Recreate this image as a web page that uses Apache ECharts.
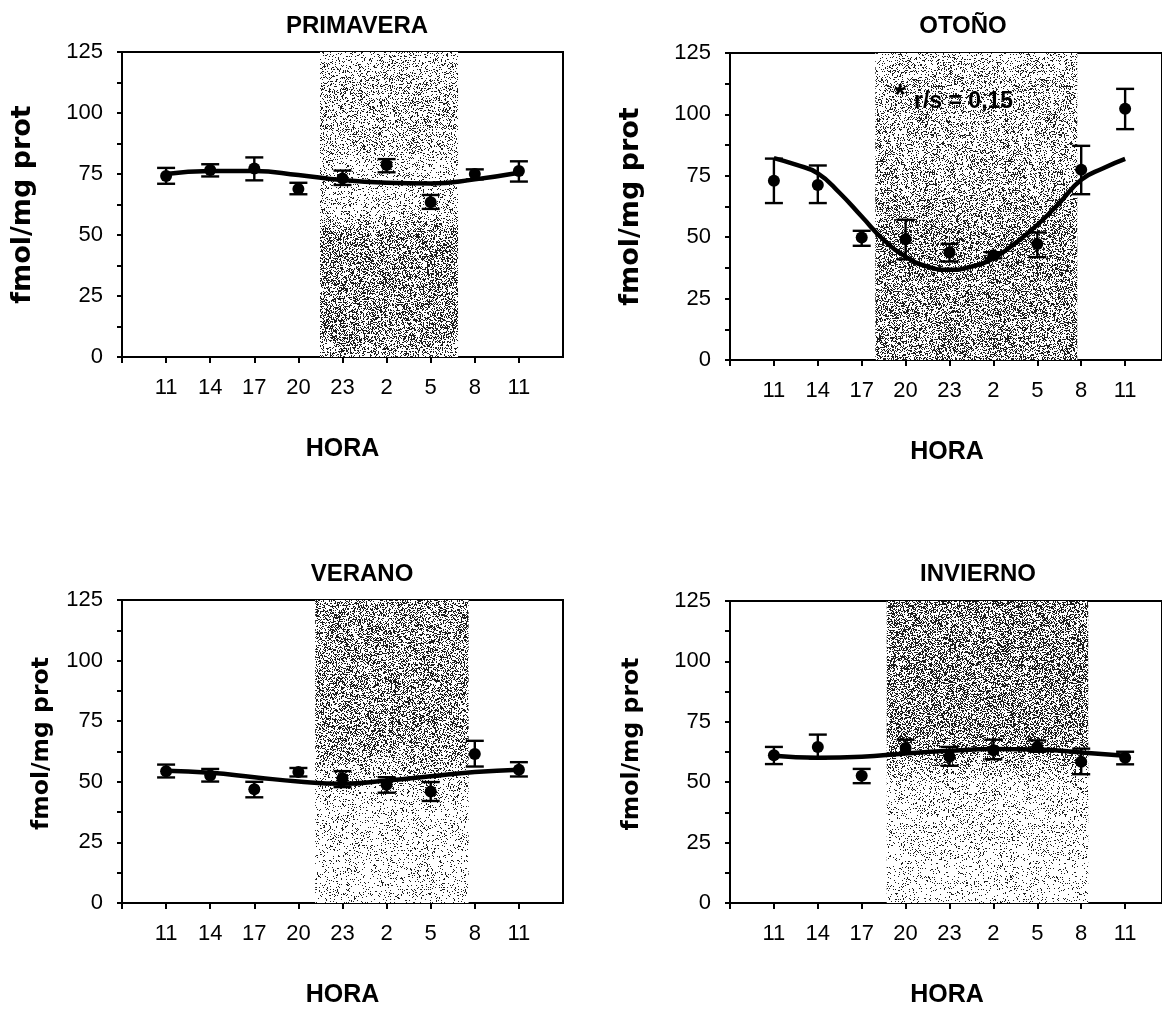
<!DOCTYPE html>
<html>
<head>
<meta charset="utf-8">
<script src="https://cdn.jsdelivr.net/npm/echarts@6/dist/echarts.min.js"></script>
<style>html,body{margin:0;padding:0;background:#fff}#c{width:1162px;height:1009px}</style>
</head>
<body>
<div id="c"></div>
<script>
// ---------- data ----------
const hourLabels = ['11','14','17','20','23','2','5','8','11'];
const seasons = ['PRIMAVERA','OTOÑO','VERANO','INVIERNO'];

const primMean  = [74.2, 76.6, 77.3, 68.9, 73.2, 78.7, 63.4, 75.0, 76.2];
const primUpper = [77.5, 79.0, 81.8, 71.4, 76.4, 81.1, 66.4, 76.9, 80.2];
const primLower = [71.0, 74.0, 72.4, 66.7, 70.5, 75.7, 60.7, 72.8, 71.9];
const primCurve = [75.0, 76.2, 76.2, 74.6, 72.5, 71.4, 71.1, 72.8, 75.5];

const otoMean  = [73.0, 71.3, 49.9, 49.2, 43.8, 42.6, 47.2, 77.5, 102.3];
const otoUpper = [82.0, 79.2, 52.6, 57.1, 47.3, 43.9, 51.9, 87.2, 110.4];
const otoLower = [63.9, 63.9, 46.5, 41.0, 40.1, 41.4, 41.9, 67.5, 94.0];
// fitted curve read every half step (1.5 h)
const otoCurve = [82.2, 79.5, 76.0, 68.0, 58.4, 48.9, 42.1, 38.0, 36.7, 38.0, 41.4, 47.6, 55.0, 63.9, 73.4, 78.1, 81.9];

const verMean  = [54.4, 52.6, 46.9, 54.0, 51.5, 48.8, 46.0, 61.5, 55.0];
const verUpper = [57.1, 55.3, 50.0, 55.7, 54.4, 51.9, 49.9, 66.9, 58.1];
const verLower = [51.8, 50.1, 43.6, 52.2, 47.8, 45.5, 42.1, 56.3, 52.2];
const verCurve = [54.6, 53.7, 51.9, 50.1, 49.2, 50.5, 52.3, 54.0, 55.0];

const invMean  = [61.2, 64.6, 52.7, 64.2, 60.5, 63.2, 64.6, 58.5, 60.1];
const invUpper = [64.6, 69.7, 55.5, 67.6, 64.6, 67.6, 67.3, 63.9, 62.6];
const invLower = [57.5, 59.8, 49.6, 61.9, 56.8, 59.5, 62.6, 53.3, 57.4];
const invCurve = [60.9, 60.1, 60.5, 61.9, 63.0, 63.7, 63.5, 62.3, 60.9];

// dark (night) period, in axis units (1 = first sample at 11 h, 3 h per unit)
const nightStart = [4.49, 3.31, 4.38, 3.57];
const nightEnd   = [7.62, 7.91, 7.86, 8.16];

const yTicks = [0, 25, 50, 75, 100, 125];
// visible x extent of each panel (right panels are cut by the page edge)
const xMax = [10, 9.84, 10, 9.84];

// ---------- layout / style ----------
const FONT = 'Liberation Sans, Arial, sans-serif';
const W = 1162, H = 1009;
const grids = [
  {left:122, top:52,  width:441, height:305},
  {left:730, top:53,  width:434, height:307},
  {left:122, top:600, width:441, height:305},
  {left:730, top:601, width:434, height:305}
];
const yNameGap = [86, 86, 68, 86];
const yNameSize = [27, 27, 23.5, 23.5];
// lightness profile of the stippled night band (0 = top of plot, 1 = bottom)
const shadeStops = [
  [[0,0.84],[0.12,0.76],[0.3,0.77],[0.38,0.86],[0.52,0.84],[0.6,0.60],[0.92,0.57],[1,0.72]],
  [[0,0.86],[0.08,0.76],[0.45,0.72],[0.6,0.60],[1,0.60]],
  [[0,0.61],[0.45,0.59],[0.55,0.75],[0.65,0.87],[1,0.89]],
  [[0,0.54],[0.42,0.55],[0.52,0.71],[0.6,0.86],[1,0.89]]
];

// deterministic stipple texture (decoration only)
function makeTexture(stops, top, height, seed) {
  const cw = 128, cv = document.createElement('canvas');
  cv.width = cw; cv.height = H;
  const ctx = cv.getContext('2d');
  const img = ctx.createImageData(cw, H);
  let s = seed >>> 0;
  const rnd = () => { s = (s + 0x6D2B79F5) >>> 0; let t = s; t = Math.imul(t ^ (t >>> 15), t | 1); t ^= t + Math.imul(t ^ (t >>> 7), t | 61); return ((t ^ (t >>> 14)) >>> 0) / 4294967296; };
  for (let y = 0; y < H; y++) {
    let t = (y - top) / height; t = Math.max(0, Math.min(1, t));
    let L = stops[stops.length - 1][1];
    for (let k = 0; k < stops.length - 1; k++) {
      if (t >= stops[k][0] && t <= stops[k + 1][0]) {
        const f = (t - stops[k][0]) / ((stops[k + 1][0] - stops[k][0]) || 1);
        L = stops[k][1] + f * (stops[k + 1][1] - stops[k][1]); break;
      }
    }
    for (let x = 0; x < cw; x++) {
      const g = rnd() < L ? 255 : 30;
      const o = (y * cw + x) * 4;
      img.data[o] = g; img.data[o + 1] = g; img.data[o + 2] = g; img.data[o + 3] = 255;
    }
  }
  ctx.putImageData(img, 0, 0);
  return cv;
}

const means  = [primMean, otoMean, verMean, invMean];
const uppers = [primUpper, otoUpper, verUpper, invUpper];
const lowers = [primLower, otoLower, verLower, invLower];
const curves = [primCurve, otoCurve, verCurve, invCurve];

const xAxes = [], yAxes = [], series = [];
grids.forEach((g, i) => {
  xAxes.push({
    gridIndex: i, type: 'value', min: 0, max: xMax[i], interval: 1,
    axisLine: {show: true, onZero: false, lineStyle: {color: '#000', width: 2}},
    axisTick: {show: true, inside: false, length: 6, lineStyle: {color: '#000', width: 2}},
    axisLabel: {color: '#000', fontSize: 22, fontFamily: FONT, margin: 20, showMaxLabel: false,
      formatter: v => (v >= 1 && v <= hourLabels.length && Number.isInteger(v)) ? hourLabels[v - 1] : ''},
    splitLine: {show: false},
    name: 'HORA', nameLocation: 'middle', nameGap: 80,
    nameTextStyle: {color: '#000', fontSize: 25, fontWeight: 'bold', fontFamily: FONT,
      padding: i % 2 === 1 ? [0, 0, 0, 2] : 0}
  });
  yAxes.push({
    gridIndex: i, type: 'value', min: 0, max: 125, interval: 12.5,
    axisLine: {show: true, onZero: false, lineStyle: {color: '#000', width: 2}},
    axisTick: {show: true, inside: false, length: 5, lineStyle: {color: '#000', width: 2}},
    axisLabel: {color: '#000', fontSize: 22, fontFamily: FONT, margin: 19,
      formatter: v => yTicks.indexOf(v) >= 0 ? String(v) : ''},
    splitLine: {show: false},
    name: 'fmol/mg prot', nameLocation: 'middle', nameRotate: 90, nameGap: yNameGap[i],
    nameTextStyle: {color: '#000', fontSize: yNameSize[i], fontWeight: 'bold', fontFamily: 'DejaVu Sans, sans-serif',
      padding: i >= 2 ? [0, 0, 0, 16] : 0}
  });

  const curve = curves[i];
  const step = (hourLabels.length - 1) / (curve.length - 1);
  series.push({
    type: 'line', xAxisIndex: i, yAxisIndex: i, smooth: true, symbol: 'none', z: 3,
    lineStyle: {color: '#000', width: 4.5},
    data: curve.map((v, k) => [1 + k * step, v]),
    markArea: {
      silent: true,
      itemStyle: {color: {image: makeTexture(shadeStops[i], g.top, g.height, 1234 + i * 77), repeat: 'repeat'}},
      data: [[{xAxis: nightStart[i], yAxis: 0}, {xAxis: nightEnd[i], yAxis: 125}]]
    }
  });
  series.push({
    type: 'custom', xAxisIndex: i, yAxisIndex: i, z: 4,
    data: means[i].map((m, k) => [k + 1, lowers[i][k], uppers[i][k]]),
    renderItem: (params, api) => {
      const x = api.value(0);
      const top = api.coord([x, api.value(2)]);
      const bot = api.coord([x, api.value(1)]);
      const w = 9;
      const st = {stroke: '#000', lineWidth: 2.4};
      return {type: 'group', children: [
        {type: 'line', shape: {x1: top[0], y1: top[1], x2: bot[0], y2: bot[1]}, style: st},
        {type: 'line', shape: {x1: top[0] - w, y1: top[1], x2: top[0] + w, y2: top[1]}, style: st},
        {type: 'line', shape: {x1: bot[0] - w, y1: bot[1], x2: bot[0] + w, y2: bot[1]}, style: st}
      ]};
    }
  });
  series.push({
    type: 'scatter', xAxisIndex: i, yAxisIndex: i, z: 5,
    symbol: 'circle', symbolSize: 12, itemStyle: {color: '#000', opacity: 1},
    data: means[i].map((m, k) => [k + 1, m])
  });
});

const titlePos = [[357, 26], [963, 26], [362, 574], [978, 574]];
const graphic = seasons.map((s, i) => ({
  type: 'text', x: titlePos[i][0], y: titlePos[i][1],
  style: {text: s, fill: '#000', font: 'bold 24px ' + FONT, textAlign: 'center', textVerticalAlign: 'middle'}
}));
graphic.push({type: 'text', x: 900, y: 96, z: 100,
  style: {text: '*', fill: '#000', font: 'bold 30px ' + FONT, textAlign: 'center', textVerticalAlign: 'middle'}});
graphic.push({type: 'text', x: 914, y: 102, z: 100,
  style: {text: 'r/s = 0,15', fill: '#000', font: 'bold 23px ' + FONT, textAlign: 'left', textVerticalAlign: 'middle'}});

const chart = echarts.init(document.getElementById('c'), null, {renderer: 'canvas'});
chart.setOption({
  animation: false,
  backgroundColor: '#fff',
  textStyle: {fontFamily: FONT},
  grid: grids.map(g => Object.assign({show: true, borderColor: '#000', borderWidth: 2, backgroundColor: 'transparent'}, g)),
  xAxis: xAxes,
  yAxis: yAxes,
  series: series,
  graphic: graphic
});
</script>
</body>
</html>
